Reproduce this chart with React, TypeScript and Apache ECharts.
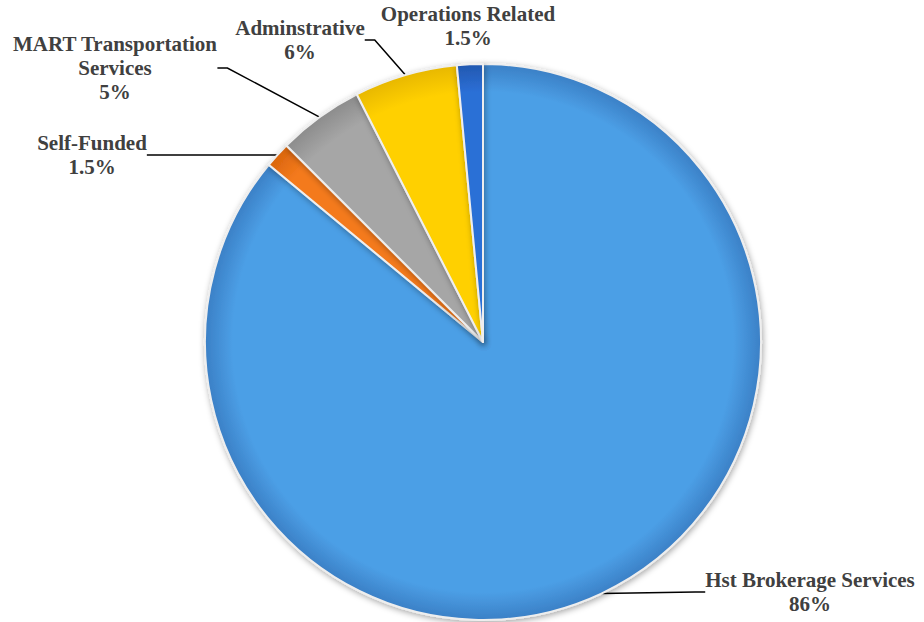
import React, { useEffect, useRef } from "react";
import * as echarts from "echarts";

const categories = [
  "Hst Brokerage Services",
  "Self-Funded",
  "MART Transportation Services",
  "Adminstrative",
  "Operations Related",
];
const values = [86, 1.5, 5, 6, 1.5];
const valueLabels = ["86%", "1.5%", "5%", "6%", "1.5%"];
const labelNames = [
  "Hst Brokerage Services",
  "Self-Funded",
  "MART Transportation\nServices",
  "Adminstrative",
  "Operations Related",
];
const baseColors = ["#4c9fe6", "#f47a1c", "#a6a6a6", "#ffd000", "#2c6fd6"];
const edgeColors = ["#3b80c6", "#d9650d", "#8c8c8c", "#e8b800", "#2258b0"];
const labelPos: [number, number][] = [
  [810, 592],
  [92, 155],
  [115, 68],
  [300, 40],
  [468, 26],
];

const CX = 483;
const CY = 342;
const R = 278;
const FONT = "'Times New Roman', 'Liberation Serif', Tinos, serif";

export default function App() {
  const ref = useRef<HTMLDivElement>(null);
  useEffect(() => {
    if (!ref.current) return;
    const chart = echarts.init(ref.current, undefined, { renderer: "svg" });
    const data = categories.map((c, i) => ({
      name: c,
      value: values[i],
      itemStyle: {
        color: {
          type: "radial",
          x: CX,
          y: CY,
          r: R,
          global: true,
          colorStops: [
            { offset: 0, color: baseColors[i] },
            { offset: 0.9, color: baseColors[i] },
            { offset: 1, color: edgeColors[i] },
          ],
        },
      },
      labelLine: { show: i !== 4 },
    }));
    chart.setOption({
      animation: false,
      backgroundColor: "#ffffff",
      textStyle: { fontFamily: FONT },
      series: [
        {
          type: "pie",
          center: [CX, CY],
          radius: R,
          startAngle: 90,
          clockwise: true,
          data,
          itemStyle: {
            borderColor: "#eeeeee",
            borderWidth: 2,
            shadowBlur: 6,
            shadowColor: "rgba(0,0,0,0.35)",
            shadowOffsetX: 1,
            shadowOffsetY: 2,
          },
          label: {
            show: true,
            position: "outside",
            formatter: (p: any) =>
              labelNames[p.dataIndex] + "\n" + valueLabels[p.dataIndex],
            fontFamily: FONT,
            fontWeight: "bold",
            fontSize: 21,
            lineHeight: 24,
            color: "#404040",
            align: "center",
          },
          labelLine: {
            show: true,
            length: 12,
            length2: 10,
            lineStyle: { color: "#000000", width: 1.5 },
          },
          labelLayout: (params: any) => {
            const [x, y] = labelPos[params.dataIndex];
            return { x, y, align: "center", verticalAlign: "middle" };
          },
        },
      ],
    });
    return () => chart.dispose();
  }, []);
  return (
    <div
      ref={ref}
      style={{ position: "fixed", left: 0, top: 0, width: 924, height: 622 }}
    />
  );
}
